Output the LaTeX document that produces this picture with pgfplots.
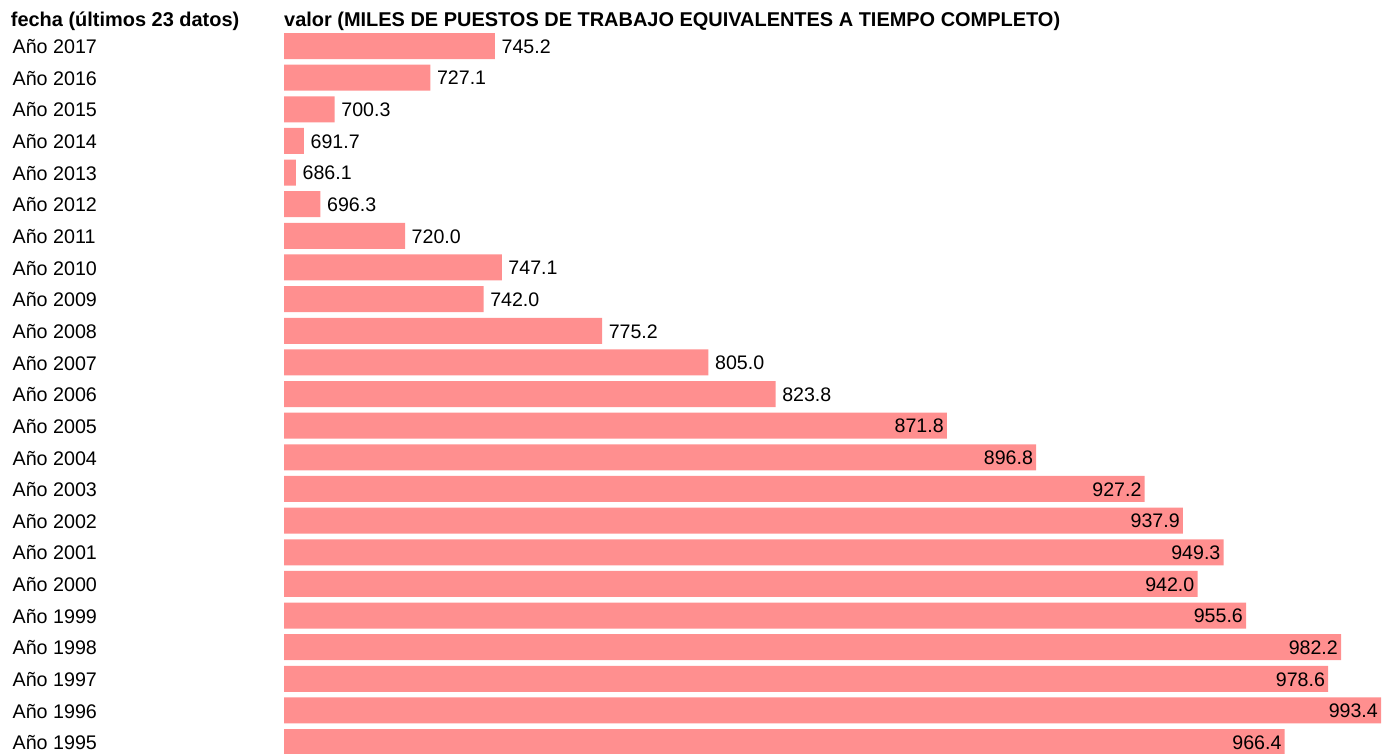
\documentclass[border=0pt]{standalone}
\usepackage{fontspec}
\setmainfont{Liberation Sans}
\usepackage{pgfplots}
\pgfplotsset{compat=1.18}
\usepackage{pgfplotstable}
\definecolor{barc}{RGB}{255,143,143}

\pgfplotstableread{
i v
0 745.2
1 727.1
2 700.3
3 691.7
4 686.1
5 696.3
6 720.0
7 747.1
8 742.0
9 775.2
10 805.0
11 823.8
}\tableA
\pgfplotstableread{
i v
12 871.8
13 896.8
14 927.2
15 937.9
16 949.3
17 942.0
18 955.6
19 982.2
20 978.6
21 993.4
22 966.4
}\tableB

\begin{document}
\begin{tikzpicture}[x=1pt,y=1pt]
\begin{axis}[
 at={(284pt,-30.18pt)}, anchor=north west, scale only axis,
 width=1097pt, height=727.72pt,
 xmin=686.1, xmax=993.4, ymin=-0.5, ymax=22.5, y dir=reverse,
 axis line style={draw=none}, tick style={draw=none}, xtick=\empty,
 ytick={0,...,22},
 yticklabels={Año 2017,Año 2016,Año 2015,Año 2014,Año 2013,Año 2012,Año 2011,Año 2010,Año 2009,Año 2008,Año 2007,Año 2006,Año 2005,Año 2004,Año 2003,Año 2002,Año 2001,Año 2000,Año 1999,Año 1998,Año 1997,Año 1996,Año 1995},
 yticklabel style={anchor=west, inner sep=0pt, xshift=-267.3pt, yshift=-0.7pt, font=\fontsize{19.7}{20}\selectfont},
 xbar, bar width=26pt, bar shift=0pt,
 clip=false,
 point meta=explicit,
 x filter/.expression={max(x,689.46)},
 nodes near coords={\pgfmathprintnumber[fixed,fixed zerofill,precision=1,assume math mode=true]{\pgfplotspointmeta}},
]
\addplot[fill=barc, draw=none, every node near coord/.append style={anchor=west, inner sep=0pt, xshift=6.5pt, yshift=-0.5pt, text=black, font=\fontsize{19.6}{20}\selectfont}] table[x=v,y=i,meta=v]{\tableA};
\addplot[fill=barc, draw=none, every node near coord/.append style={anchor=east, inner sep=0pt, xshift=-3pt, yshift=-0.5pt, text=black, font=\fontsize{19.6}{20}\selectfont}] table[x=v,y=i,meta=v]{\tableB};
\end{axis}
\node[anchor=base west, inner sep=0pt, font=\bfseries\fontsize{19.95}{20}\selectfont] at (10.7pt,-26.7pt) {fecha (últimos 23 datos)};
\node[anchor=base west, inner sep=0pt, font=\bfseries\fontsize{19.95}{20}\selectfont] at (284pt,-26.7pt) {valor (MILES DE PUESTOS DE TRABAJO EQUIVALENTES A TIEMPO COMPLETO)};
\pgfresetboundingbox
\useasboundingbox (0,0) rectangle (1391pt,-753pt);
\end{tikzpicture}
\end{document}
